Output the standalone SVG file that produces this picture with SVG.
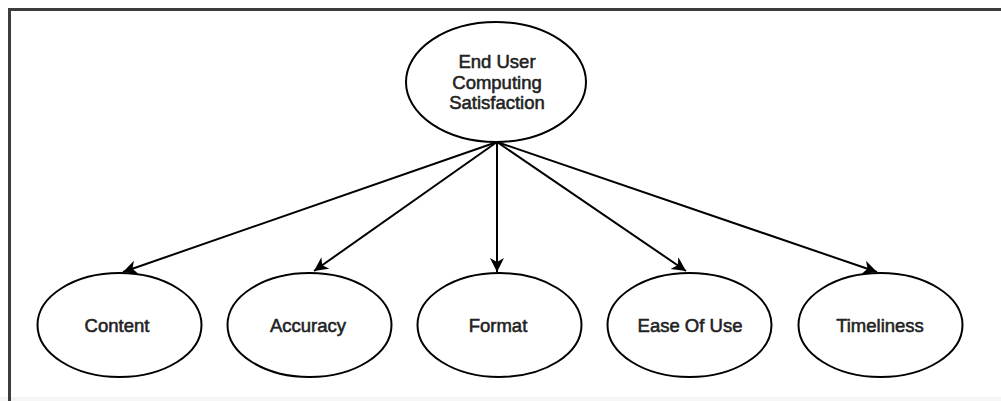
<svg xmlns="http://www.w3.org/2000/svg" width="1001" height="401" viewBox="0 0 1001 401">
  <style>
    .node ellipse { fill: #ffffff; stroke: #000000; stroke-width: 2; }
    .node text { font-family: "Liberation Sans", Arial, sans-serif; font-size: 18.5px; fill: #222222; stroke: #222222; stroke-width: 0.55; text-anchor: middle; }
    .edge { fill: none; stroke: #000000; stroke-width: 2; marker-end: url(#arrow); }
  </style>
  <defs>
    <marker id="arrow" markerUnits="userSpaceOnUse" markerWidth="16" markerHeight="16" refX="14" refY="7" orient="auto">
      <path d="M0,0 L14,7 L0,14 L4,7 Z" fill="#000000"/>
    </marker>
  </defs>
  <rect x="0" y="0" width="1001" height="401" fill="#ffffff"/>
  <rect x="0" y="397" width="1001" height="4" fill="#f5f5f5"/>
  <path d="M9.5,401 L9.5,9.5 L1001,9.5" fill="none" stroke="#3c3c3c" stroke-width="3"/>

  <g id="connectors">
    <line class="edge" x1="497" y1="142" x2="123" y2="272"/>
    <line class="edge" x1="497" y1="142" x2="314" y2="271"/>
    <line class="edge" x1="497" y1="142" x2="497" y2="272"/>
    <line class="edge" x1="497" y1="142" x2="686" y2="271"/>
    <line class="edge" x1="497" y1="142" x2="877" y2="272"/>
  </g>

  <g id="node-root" class="node">
    <ellipse cx="496" cy="82" rx="90" ry="60"/>
    <text x="497" y="68">End User</text>
    <text x="497" y="89">Computing</text>
    <text x="497" y="109">Satisfaction</text>
  </g>
  <g id="node-content" class="node">
    <ellipse cx="119.5" cy="325" rx="82" ry="52"/>
    <text x="117" y="332">Content</text>
  </g>
  <g id="node-accuracy" class="node">
    <ellipse cx="309.5" cy="325" rx="82" ry="52"/>
    <text x="308" y="332">Accuracy</text>
  </g>
  <g id="node-format" class="node">
    <ellipse cx="499.5" cy="325" rx="82" ry="52"/>
    <text x="498" y="332">Format</text>
  </g>
  <g id="node-ease" class="node">
    <ellipse cx="689.5" cy="325" rx="82" ry="52"/>
    <text x="690" y="332">Ease Of Use</text>
  </g>
  <g id="node-timeliness" class="node">
    <ellipse cx="880.5" cy="325" rx="82" ry="52"/>
    <text x="880" y="332">Timeliness</text>
  </g>
</svg>
